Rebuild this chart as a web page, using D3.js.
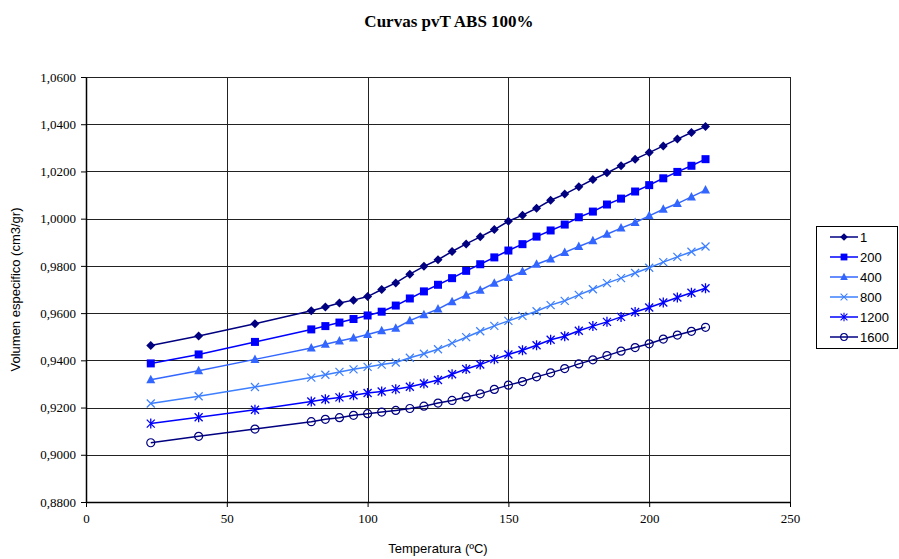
<!DOCTYPE html>
<html>
<head>
<meta charset="utf-8">
<script src="https://cdn.jsdelivr.net/npm/d3@7"></script>
<style>
  body { margin: 0; background: #fff; }
  svg { display: block; }
</style>
</head>
<body>
<svg id="chart" width="899" height="559"></svg>
<script>
// temperatures (ºC)
const temps = [23, 40, 60, 80, 85, 90, 95, 100, 105, 110, 115, 120, 125, 130, 135, 140,
  145, 150, 155, 160, 165, 170, 175, 180, 185, 190, 195, 200, 205, 210, 215, 220];

// specific volume per pressure
const p1 = [0.9463, 0.9503, 0.9555, 0.9610, 0.9626, 0.9643, 0.9655, 0.9670, 0.9700, 0.9728,
  0.9765, 0.9798, 0.9826, 0.9861, 0.9893, 0.9923, 0.9954, 0.9989, 1.0015, 1.0044, 1.0078,
  1.0104, 1.0135, 1.0166, 1.0194, 1.0224, 1.0252, 1.0280, 1.0308, 1.0337, 1.0365, 1.0390];
const p200 = [0.9387, 0.9425, 0.9478, 0.9531, 0.9545, 0.9560, 0.9575, 0.9590, 0.9606, 0.9632,
  0.9662, 0.9692, 0.9720, 0.9748, 0.9779, 0.9807, 0.9836, 0.9865, 0.9892, 0.9924, 0.9950,
  0.9975, 1.0006, 1.0030, 1.0060, 1.0085, 1.0115, 1.0142, 1.0171, 1.0198, 1.0224, 1.0252];
const p400 = [0.9318, 0.9356, 0.9404, 0.9452, 0.9468, 0.9482, 0.9495, 0.9509, 0.9525, 0.9536,
  0.9568, 0.9593, 0.9617, 0.9648, 0.9676, 0.9697, 0.9727, 0.9751, 0.9776, 0.9807, 0.9829,
  0.9857, 0.9882, 0.9906, 0.9934, 0.9960, 0.9984, 1.0012, 1.0040, 1.0064, 1.0092, 1.0121];
const p800 = [0.9217, 0.9248, 0.9287, 0.9327, 0.9339, 0.9351, 0.9362, 0.9372, 0.9382, 0.9391,
  0.9411, 0.9428, 0.9447, 0.9473, 0.9498, 0.9523, 0.9546, 0.9567, 0.9588, 0.9608, 0.9634,
  0.9652, 0.9677, 0.9701, 0.9727, 0.9748, 0.9770, 0.9792, 0.9816, 0.9838, 0.9860, 0.9882];
const p1200 = [0.9132, 0.9159, 0.9191, 0.9226, 0.9235, 0.9243, 0.9252, 0.9262, 0.9268, 0.9278,
  0.9288, 0.9302, 0.9317, 0.9341, 0.9363, 0.9382, 0.9405, 0.9425, 0.9443, 0.9464, 0.9487,
  0.9502, 0.9525, 0.9545, 0.9563, 0.9584, 0.9605, 0.9624, 0.9645, 0.9666, 0.9686, 0.9705];
const p1600 = [0.9051, 0.9078, 0.9109, 0.9140, 0.9150, 0.9157, 0.9167, 0.9174, 0.9181, 0.9188,
  0.9196, 0.9206, 0.9219, 0.9230, 0.9245, 0.9258, 0.9277, 0.9295, 0.9310, 0.9330, 0.9347,
  0.9365, 0.9385, 0.9402, 0.9420, 0.9439, 0.9454, 0.9470, 0.9490, 0.9507, 0.9523, 0.9540];

const seriesNames = ["1", "200", "400", "800", "1200", "1600"];
const seriesValues = [p1, p200, p400, p800, p1200, p1600];
const seriesColors = ["#000080", "#0000FF", "#3366FF", "#3D7FFF", "#0000FF", "#000080"];
const seriesMarkers = ["diamond", "square", "triangle", "cross", "star", "circle"];

const xTicks = [0, 50, 100, 150, 200, 250];
const yTicks = [0.88, 0.90, 0.92, 0.94, 0.96, 0.98, 1.00, 1.02, 1.04, 1.06];

const svg = d3.select("#chart");
const margin = { top: 77, left: 86, right: 109, bottom: 57 };
const width = 899 - margin.left - margin.right;
const height = 559 - margin.top - margin.bottom;

const x = d3.scaleLinear().domain([0, 250]).range([0, width]);
const y = d3.scaleLinear().domain([0.88, 1.06]).range([height, 0]);

const serif = "'Liberation Serif', 'Times New Roman', serif";
const sans = "'Liberation Sans', Arial, sans-serif";
const fmt = d => d.toFixed(4).replace(".", ",");

// title
svg.append("text")
  .attr("x", 449).attr("y", 27)
  .attr("text-anchor", "middle")
  .attr("font-family", serif)
  .attr("font-size", "17px")
  .attr("font-weight", "bold")
  .text("Curvas pvT ABS 100%");

const g = svg.append("g").attr("transform", `translate(${margin.left},${margin.top})`);

// grid
g.append("g").selectAll("line").data(yTicks).enter().append("line")
  .attr("x1", 0).attr("x2", width)
  .attr("y1", d => Math.round(y(d)) + 0.5).attr("y2", d => Math.round(y(d)) + 0.5)
  .attr("stroke", "#222").attr("stroke-width", 1);
g.append("g").selectAll("line").data(xTicks).enter().append("line")
  .attr("y1", 0).attr("y2", height)
  .attr("x1", d => Math.round(x(d)) + 0.5).attr("x2", d => Math.round(x(d)) + 0.5)
  .attr("stroke", "#222").attr("stroke-width", 1);

// axes
const yAxis = g.append("g")
  .call(d3.axisLeft(y).tickValues(yTicks).tickFormat(fmt).tickSize(5).tickSizeOuter(0));
yAxis.select(".domain").attr("stroke", "#000").attr("stroke-width", 1.5);
yAxis.selectAll("text").attr("font-family", serif).attr("font-size", "13px").attr("dx", "-2");

const xAxis = g.append("g")
  .attr("transform", `translate(0,${height})`)
  .call(d3.axisBottom(x).tickValues(xTicks).tickSize(5).tickSizeOuter(0));
xAxis.select(".domain").attr("stroke", "#000").attr("stroke-width", 1.5);
xAxis.selectAll("text").attr("font-family", serif).attr("font-size", "13px").attr("dy", "1em");

// axis titles
svg.append("text")
  .attr("x", margin.left + width / 2).attr("y", 553)
  .attr("text-anchor", "middle")
  .attr("font-family", sans).attr("font-size", "13px")
  .text("Temperatura (ºC)");
svg.append("text")
  .attr("transform", `translate(20,${margin.top + height / 2}) rotate(-90)`)
  .attr("text-anchor", "middle")
  .attr("font-family", sans).attr("font-size", "13px")
  .text("Volumen especifico (cm3/gr)");

// markers
function drawMarker(sel, type, color) {
  if (type === "diamond") {
    sel.append("path").attr("d", "M0,-4.5L4.5,0L0,4.5L-4.5,0Z").attr("fill", color);
  } else if (type === "square") {
    sel.append("rect").attr("x", -4).attr("y", -4).attr("width", 8).attr("height", 8).attr("fill", color);
  } else if (type === "triangle") {
    sel.append("path").attr("d", "M0,-5L4.5,3.5L-4.5,3.5Z").attr("fill", color);
  } else if (type === "cross") {
    sel.append("path").attr("d", "M-4,-4L4,4M-4,4L4,-4").attr("stroke", color).attr("stroke-width", 1.2).attr("fill", "none");
  } else if (type === "star") {
    sel.append("path").attr("d", "M-4,-4L4,4M-4,4L4,-4M0,-5L0,5").attr("stroke", color).attr("stroke-width", 1.3).attr("fill", "none");
  } else if (type === "circle") {
    sel.append("circle").attr("r", 4).attr("fill", "none").attr("stroke", color).attr("stroke-width", 1.2);
  }
}

const line = d3.line().x(d => x(d[0])).y(d => y(d[1]));

seriesNames.forEach((name, i) => {
  const pts = temps.map((t, j) => [t, seriesValues[i][j]]);
  const sg = g.append("g");
  sg.append("path")
    .attr("d", line(pts))
    .attr("fill", "none")
    .attr("stroke", seriesColors[i])
    .attr("stroke-width", 1.5);
  sg.selectAll("g.m").data(pts).enter().append("g")
    .attr("class", "m")
    .attr("transform", d => `translate(${x(d[0])},${y(d[1])})`)
    .each(function () { drawMarker(d3.select(this), seriesMarkers[i], seriesColors[i]); });
});

// legend
const lg = svg.append("g").attr("transform", "translate(816,226)");
lg.append("rect")
  .attr("x", 0.5).attr("y", 0.5).attr("width", 81).attr("height", 122)
  .attr("fill", "#fff").attr("stroke", "#000").attr("stroke-width", 1);
seriesNames.forEach((name, i) => {
  const item = lg.append("g").attr("transform", `translate(0,${11 + i * 20})`);
  item.append("line")
    .attr("x1", 14).attr("x2", 42).attr("y1", 0).attr("y2", 0)
    .attr("stroke", seriesColors[i]).attr("stroke-width", 1.5);
  const mk = item.append("g").attr("transform", "translate(28,0) scale(0.85)");
  drawMarker(mk, seriesMarkers[i], seriesColors[i]);
  item.append("text")
    .attr("x", 44).attr("y", 4.5)
    .attr("font-family", sans).attr("font-size", "13px")
    .text(name);
});
</script>
</body>
</html>
